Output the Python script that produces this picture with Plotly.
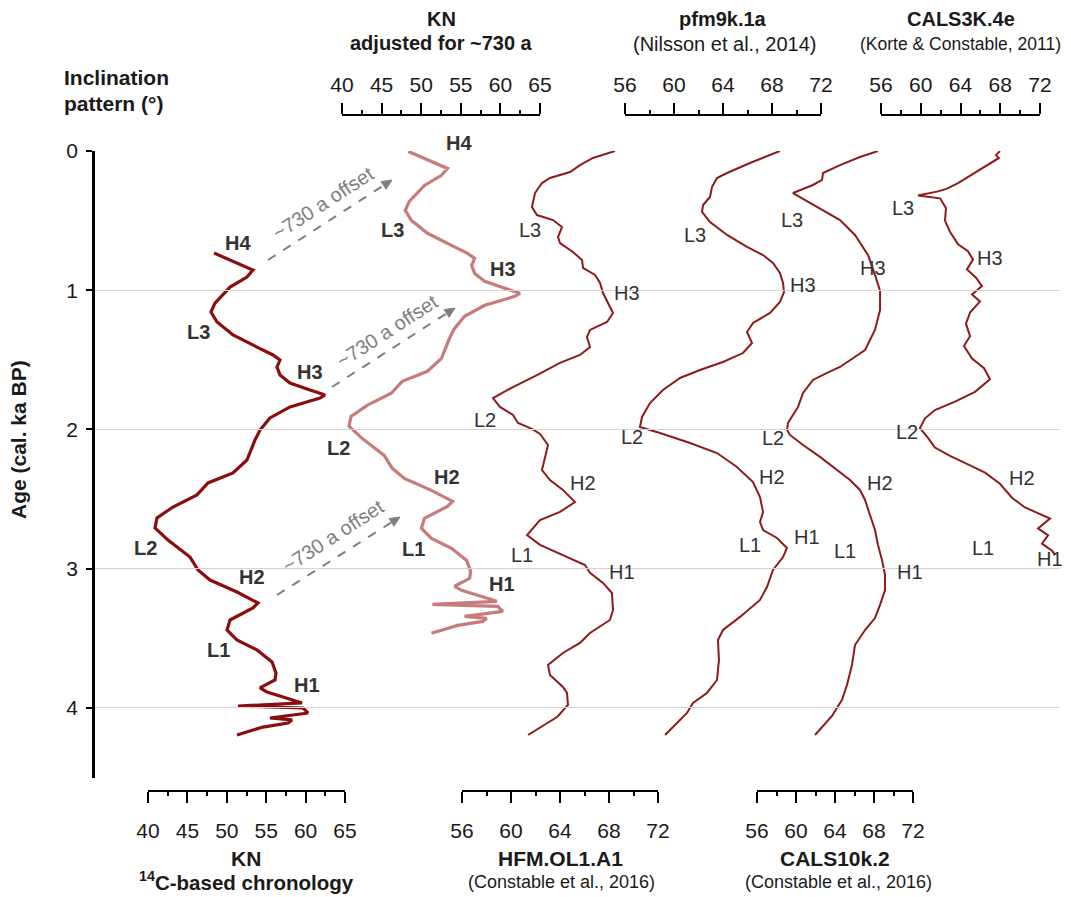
import plotly.graph_objects as go

W, H = 1071, 897
FONT = "Arial, Liberation Sans, sans-serif"

# ---------------- data (age in cal. ka BP, inclination in degrees) ----------------
kn_age = [0.733, 0.855, 0.905, 0.977, 1.092, 1.156, 1.228, 1.321, 1.408, 1.465, 1.501, 1.551,
          1.609, 1.666, 1.716, 1.752, 1.774, 1.838, 1.917, 2.004, 2.075, 2.219, 2.312, 2.384,
          2.470, 2.557, 2.636, 2.707, 2.794, 2.916, 3.009, 3.081, 3.167, 3.246, 3.282, 3.368,
          3.440, 3.512, 3.583, 3.670, 3.749, 3.799, 3.856, 3.885, 3.921, 3.964, 3.986, 4.000,
          4.036, 4.072, 4.086, 4.108, 4.137, 4.194]
kn_inc = [48.38, 53.32, 52.56, 50.41, 48.50, 47.99, 48.76, 50.79, 53.83, 55.86, 56.75, 56.37,
          56.75, 58.02, 60.56, 62.46, 61.83, 58.02, 55.48, 54.21, 53.58, 52.56, 50.79, 47.61,
          46.22, 43.17, 41.14, 40.89, 42.54, 45.33, 46.35, 47.87, 51.29, 53.96, 53.32, 50.41,
          50.03, 51.29, 53.83, 55.74, 56.24, 56.12, 54.21, 55.10, 57.13, 59.54, 51.42, 59.67,
          60.30, 55.48, 58.27, 57.77, 54.59, 51.29]

kn_adj_age = [0.003, 0.125, 0.175, 0.247, 0.362, 0.426, 0.498, 0.591, 0.678, 0.735, 0.771, 0.821,
              0.879, 0.936, 0.986, 1.022, 1.044, 1.108, 1.187, 1.274, 1.345, 1.489, 1.582, 1.654,
              1.740, 1.827, 1.906, 1.977, 2.064, 2.186, 2.279, 2.351, 2.437, 2.516, 2.552, 2.638,
              2.710, 2.782, 2.853, 2.940, 3.019, 3.069, 3.126, 3.155, 3.191, 3.234, 3.256, 3.270,
              3.306, 3.342, 3.356, 3.378, 3.407, 3.464]
kn_adj_inc = kn_inc

hfm_age = [0.000, 0.050, 0.101, 0.151, 0.194, 0.230, 0.302, 0.402, 0.460, 0.496, 0.546, 0.618,
           0.661, 0.725, 0.783, 0.840, 0.890, 0.948, 1.020, 1.092, 1.163, 1.228, 1.285, 1.336,
           1.408, 1.465, 1.522, 1.609, 1.695, 1.774, 1.838, 1.896, 1.953, 1.996, 2.032, 2.111,
           2.197, 2.291, 2.363, 2.434, 2.521, 2.592, 2.650, 2.758, 2.829, 2.916, 2.973, 3.030,
           3.102, 3.174, 3.296, 3.368, 3.461, 3.533, 3.605, 3.691, 3.763, 3.849, 3.892, 3.978,
           4.065, 4.194]
hfm_inc = [68.49, 66.69, 65.63, 64.82, 63.18, 62.53, 61.96, 61.71, 62.12, 63.43, 64.16, 63.84,
           64.00, 65.06, 65.80, 65.88, 66.86, 67.27, 67.51, 67.92, 68.33, 67.84, 66.45, 66.20,
           66.45, 65.63, 64.00, 62.12, 60.16, 58.53, 59.10, 60.16, 60.57, 61.71, 62.37, 63.02,
           62.78, 62.53, 63.18, 64.24, 65.22, 64.00, 62.37, 61.31, 62.37, 64.57, 66.04, 66.45,
           67.51, 68.24, 68.33, 68.08, 66.45, 65.63, 64.24, 63.02, 63.18, 64.24, 64.57, 64.65,
           63.76, 61.39]

pfm_age = [0.000, 0.086, 0.158, 0.194, 0.259, 0.330, 0.388, 0.438, 0.510, 0.603, 0.689, 0.747,
           0.804, 0.876, 0.948, 1.013, 1.084, 1.163, 1.235, 1.300, 1.379, 1.451, 1.515, 1.573,
           1.630, 1.716, 1.810, 1.910, 1.982, 2.025, 2.097, 2.169, 2.269, 2.377, 2.485, 2.592,
           2.664, 2.722, 2.779, 2.851, 2.916, 3.009, 3.131, 3.224, 3.346, 3.440, 3.512, 3.655,
           3.799, 3.892, 3.964, 4.036, 4.194]
pfm_inc = [68.65, 66.20, 64.33, 63.51, 63.10, 62.94, 62.37, 62.29, 62.94, 64.33, 65.96, 67.27,
           68.08, 68.65, 68.90, 68.98, 68.65, 67.84, 66.45, 65.96, 66.37, 65.63, 64.00, 62.12,
           60.49, 59.10, 58.04, 57.39, 57.22, 58.86, 61.31, 63.51, 65.14, 66.45, 67.02, 67.27,
           67.02, 67.27, 68.41, 69.22, 68.90, 68.08, 67.59, 67.02, 65.39, 64.00, 63.59, 63.67,
           63.51, 62.69, 61.55, 61.06, 59.27]

c10k_age = [0.000, 0.043, 0.101, 0.158, 0.208, 0.244, 0.302, 0.373, 0.445, 0.496, 0.603, 0.747,
            0.890, 1.005, 1.142, 1.285, 1.429, 1.551, 1.594, 1.644, 1.738, 1.838, 1.953, 2.004,
            2.039, 2.111, 2.197, 2.291, 2.363, 2.434, 2.506, 2.614, 2.722, 2.829, 2.937, 3.045,
            3.153, 3.260, 3.354, 3.440, 3.548, 3.691, 3.835, 3.942, 4.057, 4.194]
c10k_inc = [68.41, 66.56, 64.51, 62.77, 62.67, 61.74, 59.69, 61.44, 63.18, 64.51, 66.05, 67.38,
            68.10, 68.62, 68.62, 68.10, 67.08, 64.51, 63.18, 61.74, 60.72, 60.21, 59.18, 59.08,
            59.38, 60.72, 62.46, 64.21, 65.54, 66.56, 67.08, 67.59, 68.10, 68.41, 68.82, 69.13,
            69.13, 68.62, 68.10, 67.08, 66.05, 65.74, 65.23, 64.72, 63.69, 61.95]

c3k_age = [0.00, 0.03, 0.05, 0.09, 0.14, 0.19, 0.23, 0.27, 0.29, 0.32, 0.34, 0.41, 0.50, 0.58,
           0.67, 0.72, 0.78, 0.85, 0.91, 0.97, 1.03, 1.08, 1.16, 1.24, 1.33, 1.40, 1.49, 1.56,
           1.64, 1.73, 1.80, 1.86, 1.92, 1.99, 2.06, 2.13, 2.19, 2.25, 2.31, 2.39, 2.49, 2.56,
           2.61, 2.64, 2.71, 2.76, 2.82, 2.87, 2.90]
c3k_inc = [67.97, 67.57, 67.87, 66.97, 65.76, 64.75, 63.75, 62.64, 61.74, 59.72, 61.94, 62.54,
           62.44, 62.94, 63.75, 64.75, 65.26, 64.65, 65.56, 66.16, 65.16, 65.96, 64.96, 64.55,
           64.96, 64.35, 65.16, 66.37, 66.97, 65.46, 63.45, 61.43, 60.43, 59.92, 60.73, 61.43,
           62.94, 64.75, 66.47, 67.97, 69.18, 70.49, 72.00, 73.01, 71.80, 72.81, 72.20, 73.21,
           73.51]

age_ticks = [0, 1, 2, 3, 4]
kn_ticks = [40, 45, 50, 55, 60, 65]
kn_minor = [42.5, 47.5, 52.5, 57.5, 62.5]
mod_ticks = [56, 60, 64, 68, 72]
mod_minor = [58, 62, 66, 70]

# ---------------- layout geometry (pixels of the 1071x897 page) ----------------
OFF = 8                      # default page margin in front of the plot div
FW, FH = W - OFF, H - OFF    # figure size so that the page is exactly filled

def px(x):
    return (x - OFF) / FW

def py(y):
    return 1 - (y - OFF) / FH

PLOT_L, PLOT_R = 95, 1060
Y_TOP, Y_BOT = 151, 777.6
AGE_MAX = 4.5
TOP_LINE, BOT_LINE = 115, 791
TICK_FS = 21

# series: name, ages, inc, scale px (a, b), scale values, side, colour, width
series = [
    ("KN", kn_age, kn_inc, (148, 345), (40, 65), "bottom", "#8b0d0d", 3.2),
    ("KN adj", kn_adj_age, kn_adj_inc, (342, 540), (40, 65), "top", "#c77b7b", 3.2),
    ("HFM", hfm_age, hfm_inc, (462, 658), (56, 72), "bottom", "#8e1b1b", 2.0),
    ("pfm", pfm_age, pfm_inc, (625, 821), (56, 72), "top", "#8e1b1b", 2.0),
    ("CALS10k", c10k_age, c10k_inc, (757, 913), (56, 72), "bottom", "#8e1b1b", 2.0),
    ("CALS3K", c3k_age, c3k_inc, (881, 1040), (56, 72), "top", "#8e1b1b", 2.0),
]

fig = go.Figure()
layout = dict(
    width=FW, height=FH, margin=dict(l=0, r=0, t=0, b=0, autoexpand=False),
    paper_bgcolor="white", plot_bgcolor="rgba(0,0,0,0)",
    showlegend=False, font=dict(family=FONT, size=TICK_FS, color="#1a1a1a"),
    yaxis=dict(domain=[py(Y_BOT), py(Y_TOP)], range=[AGE_MAX, 0], anchor="x",
               tickvals=age_ticks, ticks="outside", ticklen=6, tickwidth=2, tickcolor="black",
               showline=True, linecolor="black", linewidth=2.5, automargin=False,
               showgrid=True, gridcolor="#d4d4d4", gridwidth=1, zeroline=False,
               tickfont=dict(size=TICK_FS, color="#1a1a1a"), ticklabelstandoff=4),
)

n = len(series)
for i, (name, ages, inc, (a, b), (v0, v1), side, col, lw) in enumerate(series):
    s = (v1 - v0) / (b - a)
    rng = [v0 + (PLOT_L - a) * s, v0 + (PLOT_R - a) * s]
    dk = "xaxis" if i == 0 else f"xaxis{i + 1}"
    dref = "x" if i == 0 else f"x{i + 1}"
    dax = dict(domain=[px(PLOT_L), px(PLOT_R)], range=rng, visible=False, automargin=False,
               showgrid=False, zeroline=False, anchor="y")
    if i > 0:
        dax["overlaying"] = "x"
    layout[dk] = dax
    fig.add_trace(go.Scatter(x=inc, y=ages, xaxis=dref, yaxis="y", mode="lines",
                             line=dict(color=col, width=lw), hoverinfo="skip"))

    # scale bar axis
    j = n + i + 1
    sk, sref = f"xaxis{j}", f"x{j}"
    major = kn_ticks if v1 == 65 else mod_ticks
    minor = kn_minor if v1 == 65 else mod_minor
    layout[sk] = dict(domain=[px(a), px(b)], range=[v0, v1], anchor="free",
                      position=py(TOP_LINE) if side == "top" else py(BOT_LINE),
                      side=side, tickvals=major, ticks="outside", ticklen=11, tickwidth=2,
                      tickcolor="black", showline=True, linecolor="black", linewidth=2,
                      showgrid=False, zeroline=False, automargin=False,
                      ticklabelstandoff=3 if side == "top" else 10,
                      tickfont=dict(size=TICK_FS, color="#1a1a1a"),
                      minor=dict(tickvals=minor, ticks="outside", ticklen=4, tickwidth=2,
                                 tickcolor="black", showgrid=False))
    fig.add_trace(go.Scatter(x=[v0], y=[0], xaxis=sref, yaxis="y", mode="markers",
                             marker=dict(opacity=0), hoverinfo="skip"))

fig.update_layout(**layout)

ann = []

def text(x, y, t, size=21, color="#1a1a1a", xanchor="center", **kw):
    ann.append(dict(x=px(x), y=py(y), xref="paper", yref="paper", text=t, showarrow=False,
                    xanchor=xanchor, yanchor="middle", borderpad=0,
                    font=dict(family=FONT, size=size, color=color), **kw))

# titles
text(441, 19, "<b>KN</b>", size=20)
text(441, 43, "<b>adjusted for ~730 a</b>", size=20)
text(723, 19, "<b>pfm9k.1a</b>", size=20)
text(724, 44, "(Nilsson et al., 2014)", size=20)
text(961, 19, "<b>CALS3K.4e</b>", size=20)
text(960, 44, "(Korte &amp; Constable, 2011)", size=17.5)
text(63, 78, "<b>Inclination</b>", xanchor="left")
text(63, 103, "<b>pattern (°)</b>", xanchor="left")
text(246, 858, "<b>KN</b>")
text(246, 881, "<b><sup>14</sup>C-based chronology</b>", size=20.5)
text(560, 858, "<b>HFM.OL1.A1</b>")
text(561, 882, "(Constable et al., 2016)", size=18)
text(835, 858, "<b>CALS10k.2</b>")
text(838, 882, "(Constable et al., 2016)", size=18)
text(18, 440, "<b>Age (cal. ka BP)</b>", textangle=-90)

# curve labels
LBL = "#333333"
LFS = 20
for t, x, y in [("H4", 238, 243), ("L3", 198, 332), ("H3", 310, 372), ("L2", 145, 548),
                ("H2", 252, 577), ("L1", 218, 650), ("H1", 307, 685),
                ("H4", 459, 143), ("L3", 392, 230), ("H3", 503, 269), ("L2", 338, 448),
                ("H2", 447, 477), ("L1", 413, 549), ("H1", 502, 584)]:
    text(x, y, f"<b>{t}</b>", size=LFS, color=LBL)
for t, x, y in [("L3", 530, 230), ("H3", 627, 293), ("L2", 485, 420), ("H2", 583, 483),
                ("L1", 522, 555), ("H1", 622, 572),
                ("L3", 695, 235), ("H3", 803, 285), ("L2", 632, 437), ("H2", 772, 477),
                ("L1", 750, 545), ("H1", 807, 537),
                ("L3", 792, 220), ("H3", 873, 268), ("L2", 773, 438), ("H2", 880, 483),
                ("L1", 845, 551), ("H1", 910, 572),
                ("L3", 903, 208), ("H3", 990, 258), ("L2", 907, 432), ("H2", 1022, 478),
                ("L1", 983, 548), ("H1", 1050, 559)]:
    text(x, y, t, size=LFS, color=LBL)

# offset arrows: dashed shaft + filled triangular head
GRAY = "#7f7f7f"
shapes = []
for (x0, y0), (x1, y1), (tx, ty) in [((268, 260), (392, 180), (323, 203)),
                                      ((332, 387), (455, 308), (387, 331)),
                                      ((277, 595), (400, 517), (333, 536))]:
    dx, dy = x1 - x0, y1 - y0
    L = (dx * dx + dy * dy) ** 0.5
    ux, uy = dx / L, dy / L
    nx, ny = -uy, ux
    hl, hw = 10, 4.5
    bx, by = x1 - ux * hl, y1 - uy * hl
    shapes.append(dict(type="line", xref="paper", yref="paper", x0=px(x0), y0=py(y0),
                       x1=px(bx), y1=py(by), line=dict(color=GRAY, width=2, dash="dash")))
    path = (f"M {px(x1)},{py(y1)} L {px(bx + nx * hw)},{py(by + ny * hw)} "
            f"L {px(bx - nx * hw)},{py(by - ny * hw)} Z")
    shapes.append(dict(type="path", xref="paper", yref="paper", path=path,
                       fillcolor=GRAY, line=dict(color=GRAY, width=1)))
    text(tx, ty, "~730 a offset", size=20, color=GRAY, textangle=-33)

fig.update_layout(annotations=ann, shapes=shapes)
fig.write_html("out.html")
